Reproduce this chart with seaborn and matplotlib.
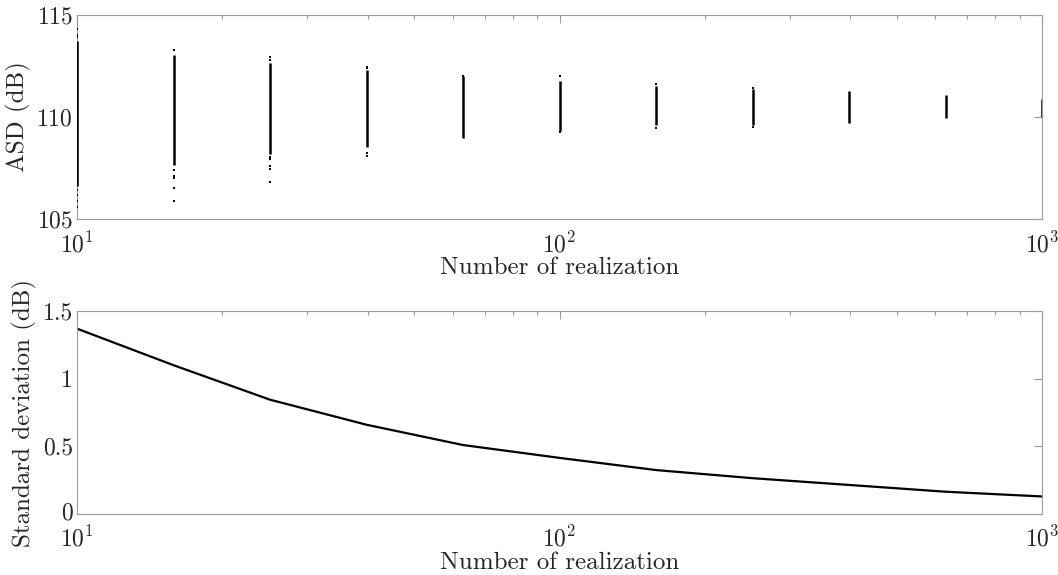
import numpy as np
import pandas as pd
import matplotlib
matplotlib.use("Agg")
import matplotlib.pyplot as plt
import matplotlib.transforms as mtransforms
import seaborn as sns
from matplotlib.ticker import LogLocator, NullFormatter

# ---- data ----
n_real = [10, 15.85, 25.12, 39.81, 63.1, 100, 158.5, 251.2, 398.1, 631.0, 1000]
# dense range of ASD values (dB) for each number of realizations
asd_low = [106.6, 107.65, 108.2, 108.55, 108.95, 109.3, 109.6, 109.62, 109.69, 109.94, 110.0]
asd_high = [113.7, 113.05, 112.63, 112.3, 112.0, 111.78, 111.52, 111.35, 111.27, 111.08, 110.9]
# isolated points (outliers) outside the dense ranges
asd_outliers = [
    [114.3, 114.0, 113.9, 106.4, 106.2, 105.9, 105.6],
    [113.3, 107.4, 107.1, 107.0, 106.5, 105.9],
    [112.93, 112.8, 108.05, 107.94, 107.6, 107.44, 106.83],
    [112.47, 112.39, 108.22, 108.1],
    [112.02],
    [112.0, 109.25],
    [111.62, 109.45],
    [111.42, 109.52],
    [],
    [],
    [],
]
std_db = [1.37, 1.10, 0.845, 0.66, 0.51, 0.415, 0.325, 0.265, 0.215, 0.165, 0.13]

# ---- style ----
sns.set_theme(style="white")
plt.rcParams["font.family"] = ["serif"]
plt.rcParams["font.serif"] = ["cmr10", "DejaVu Serif"]
plt.rcParams["mathtext.fontset"] = "cm"
plt.rcParams["axes.formatter.use_mathtext"] = True
plt.rcParams["axes.unicode_minus"] = False

FS = 18
TFS = 17
spine_c = "#9a9a9a"
text_c = "#262626"

fig = plt.figure(figsize=(10.58, 5.75), dpi=100)
ax1 = fig.add_axes([0.0728, 0.619, 0.9122, 0.355])
ax2 = fig.add_axes([0.0728, 0.106, 0.9122, 0.353])

# top: ASD scatter
out_x, out_y = [], []
for x, ys in zip(n_real, asd_outliers):
    out_x += [x] * len(ys)
    out_y += ys
ax1.vlines(n_real, asd_low, asd_high, color="black", lw=1.8, zorder=3)
sns.scatterplot(x=out_x, y=out_y, ax=ax1, color="black", s=3, marker="s",
                linewidth=0, zorder=3)

# bottom: std line
df = pd.DataFrame({"n": n_real, "std": std_db})
sns.lineplot(data=df, x="n", y="std", ax=ax2, color="black", lw=1.6)

for ax in (ax1, ax2):
    ax.set_xscale("log")
    ax.set_xlim(10, 1000)
    ax.xaxis.set_major_locator(LogLocator(base=10, numticks=5))
    ax.xaxis.set_minor_locator(LogLocator(base=10, subs=np.arange(2, 10), numticks=20))
    ax.xaxis.set_minor_formatter(NullFormatter())
    for s in ax.spines.values():
        s.set_color(spine_c)
        s.set_linewidth(0.8)
    ax.tick_params(which="both", direction="in", top=True, right=True,
                   color=spine_c, labelsize=TFS, labelcolor=text_c, width=0.8)
    ax.tick_params(which="major", length=6)
    ax.tick_params(which="minor", length=3)
    ax.tick_params(axis="x", which="major", pad=9)
    ax.tick_params(axis="y", which="major", pad=3)
    ax.set_xlabel("Number of realization", fontsize=FS, color=text_c, labelpad=0)
    ax.grid(False)

ax1.set_ylim(105, 115)
ax1.set_yticks([105, 110, 115])
ax1.set_ylabel("ASD (dB)", fontsize=FS, color=text_c, labelpad=4)

ax2.set_ylim(0, 1.5)
ax2.set_yticks([0, 0.5, 1, 1.5])
ax2.set_yticklabels(["0", "0.5", "1", "1.5"])
ax2.set_ylabel("Standard deviation (dB)", fontsize=FS, color=text_c, labelpad=4)

# lift the bottom-left "0" slightly so it does not collide with 10^1
lab0 = ax2.get_yticklabels()[0]
lab0.set_transform(lab0.get_transform() +
                   mtransforms.ScaledTranslation(0, 2 / 72, fig.dpi_scale_trans))

fig.savefig("out.png", dpi=100)
